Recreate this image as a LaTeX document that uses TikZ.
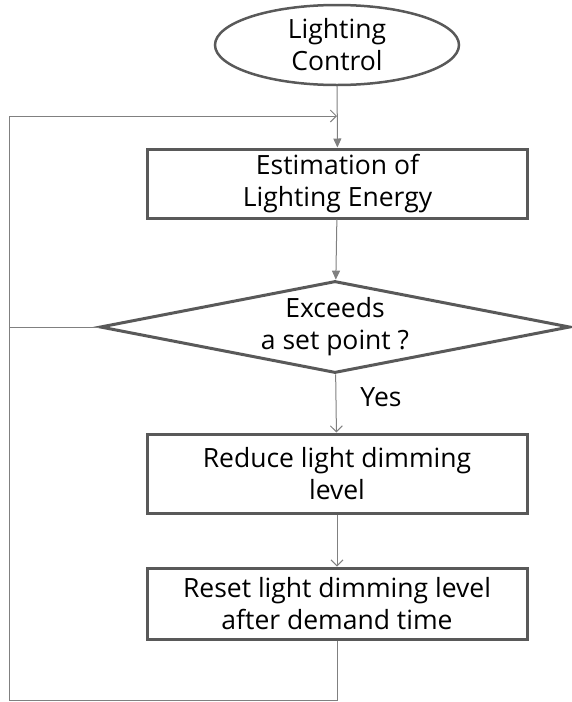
\documentclass[tikz,border=0pt]{standalone}
\usepackage{fontspec}
\setmainfont{Open Sans}
\usetikzlibrary{shapes.geometric,arrows.meta}
\definecolor{linegray}{RGB}{128,128,128}
\definecolor{boxgray}{RGB}{89,89,89}
\tikzset{
  every node/.style={font=\fontsize{26.5}{32}\selectfont, align=center},
  stepbox/.style={draw=boxgray, line width=3pt, rectangle, minimum width=380pt, inner sep=0pt},
  startnode/.style={draw=boxgray, line width=2.5pt, ellipse, minimum width=244pt, minimum height=80pt, inner sep=0pt},
  decision/.style={draw=boxgray, line width=3pt, diamond, shape aspect=5.1, minimum width=470pt, minimum height=92pt, inner sep=-3pt},
  flow/.style={draw=linegray, line width=1pt, -{Triangle[length=9pt,width=8pt]}},
  openflow/.style={draw=linegray, line width=1pt, -{Straight Barb[length=6pt,width=12pt]}},
  plain/.style={draw=linegray, line width=1pt}
}
\begin{document}
\begin{tikzpicture}[x=1pt,y=1pt]
          \useasboundingbox (0,0) rectangle (571,-702);
          \node[startnode] at (337,-45) (start) {Lighting\\Control};
          \node[stepbox, minimum height=69pt] at (337.5,-183.5) (est) {Estimation of\\Lighting Energy};
          \node[decision] at (335,-327) (dec) {Exceeds\\a set point ?};
          \node[] at (381,-397) (yes) {Yes};
          \node[stepbox, minimum height=79pt] at (337,-473.5) (red) {Reduce light dimming\\level};
          \node[stepbox, minimum height=71pt] at (337,-603.5) (rst) {Reset light dimming level\\after demand time};
          \coordinate (join) at (337,-116);
          \coordinate (bl) at (9,-700);
          \coordinate (tl) at (9,-116);
          \coordinate (ml) at (9,-327);
          \path[flow] (start) -- (est);
          \path[flow] (est) -- (dec);
          \path[openflow] (dec) -- (red);
          \path[openflow] (red) -- (rst);
          \path[openflow] (rst.south) |- (bl) -- (tl) -- (join);
          \path[plain] (dec.west) -- (ml);
        \end{tikzpicture}
\end{document}
